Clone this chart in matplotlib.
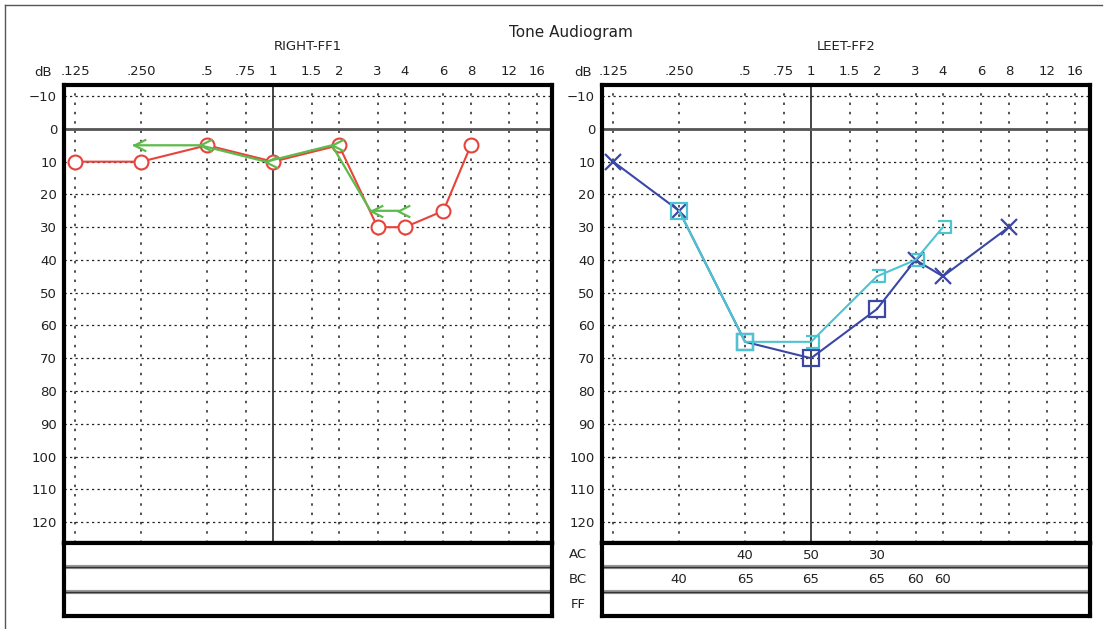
import matplotlib
matplotlib.use("Agg")
import matplotlib.pyplot as plt
from matplotlib.path import Path
from matplotlib.lines import Line2D
import matplotlib.transforms as mtransforms
from matplotlib.ticker import NullLocator

# ---------------- data ----------------
freq_ticks = [0.125, 0.25, 0.5, 0.75, 1, 1.5, 2, 3, 4, 6, 8, 12, 16]
freq_labels = [".125", ".250", ".5", ".75", "1", "1.5", "2", "3", "4", "6", "8", "12", "16"]
db_ticks = [-10, 0, 10, 20, 30, 40, 50, 60, 70, 80, 90, 100, 110, 120]

right_ac_freqs = [0.125, 0.25, 0.5, 1, 2, 3, 4, 6, 8]
right_ac = [10, 10, 5, 10, 5, 30, 30, 25, 5]
right_bc_freqs = [0.25, 0.5, 1, 2, 3, 4]
right_bc = [5, 5, 10, 5, 25, 25]

left_ac_freqs = [0.125, 0.25, 0.5, 1, 2, 3, 4, 8]
left_ac = [10, 25, 65, 70, 55, 40, 45, 30]
left_ac_masked = [False, False, True, True, True, False, False, False]
left_bc_freqs = [0.25, 0.5, 1, 2, 3, 4]
left_bc = [25, 65, 65, 45, 40, 30]
left_bc_square = [True, True, False, False, False, False]

table_rows = ["AC", "BC", "FF"]
left_table_ac_freqs = [0.5, 1, 2]
left_table_ac = [40, 50, 30]
left_table_bc_freqs = [0.25, 0.5, 1, 2, 3, 4]
left_table_bc = [40, 65, 65, 65, 60, 60]

# ---------------- style ----------------
RED = "#e8433b"
GREEN = "#5dbb4b"
DBLUE = "#3b47a6"
CYAN = "#4cc4d2"
FS = 9.5
plt.rcParams["font.family"] = ["DejaVu Sans"]

W, H = 1107, 629
fig = plt.figure(figsize=(W / 100, H / 100), dpi=100)


def rect(x0, y0, x1, y1):
    return [x0 / W, 1 - y1 / H, (x1 - x0) / W, (y1 - y0) / H]


XLIM = (0.1111, 18.78)
YLIM = (126.4, -13.4)

axL = fig.add_axes(rect(64, 85, 552, 543))
axR = fig.add_axes(rect(602, 85, 1090, 543))
tL = fig.add_axes(rect(64, 543, 552, 616))
tR = fig.add_axes(rect(602, 543, 1090, 616))


def setup_main(ax):
    ax.set_xscale("log", base=2)
    ax.set_xlim(*XLIM)
    ax.set_ylim(*YLIM)
    ax.xaxis.tick_top()
    ax.set_xticks(freq_ticks)
    ax.set_xticklabels(freq_labels, fontsize=FS, color="#222222")
    ax.xaxis.set_minor_locator(NullLocator())
    ax.set_yticks(db_ticks)
    ax.set_yticklabels([str(v).replace("-", "\u2212") for v in db_ticks],
                       fontsize=FS, color="#222222")
    ax.tick_params(axis="x", length=0, pad=5)
    ax.tick_params(axis="y", length=0, pad=5)
    for f in freq_ticks:
        if f == 1:
            ax.axvline(f, color="#444444", lw=1.4, zorder=1)
        else:
            ax.axvline(f, color="#222222", lw=1.1, ls=(0, (1.6, 4.5)), zorder=1)
    for d in db_ticks:
        if d == 0:
            ax.axhline(d, color="#555555", lw=2.0, zorder=1)
        else:
            ax.axhline(d, color="#222222", lw=0.9, ls=(0, (1.8, 2.6)), zorder=1)
    for s in ax.spines.values():
        s.set_linewidth(3)


def setup_table(ax):
    ax.set_xscale("log", base=2)
    ax.set_xlim(*XLIM)
    ax.set_ylim(3, 0)
    ax.set_xticks([])
    ax.set_yticks([])
    ax.xaxis.set_minor_locator(NullLocator())
    for yy in (1, 2):
        ax.axhline(yy, color="#999999", lw=3)
        ax.axhline(yy, color="#333333", lw=1)
    for s in ax.spines.values():
        s.set_linewidth(3)


setup_main(axL)
setup_main(axR)
setup_table(tL)
setup_table(tR)

# custom markers
lt_marker = Path([(12, 6), (0, 0), (12, -6)], [Path.MOVETO, Path.LINETO, Path.LINETO])
br_marker = Path([(-5, 6), (8, 6), (8, -6), (-5, -6)],
                 [Path.MOVETO, Path.LINETO, Path.LINETO, Path.LINETO])

# ---------------- right ear ----------------
axL.plot(right_ac_freqs, right_ac, color=RED, lw=1.5, marker="o", ms=10,
         mfc="white", mec=RED, mew=1.5, zorder=3)
off = mtransforms.offset_copy(axL.transData, fig=fig, x=-7, y=0, units="dots")
axL.plot(right_bc_freqs, right_bc, color=GREEN, lw=1.6, marker=lt_marker, ms=17,
         mfc="none", mec=GREEN, mew=1.6, transform=off, zorder=4)

# ---------------- left ear ----------------
axR.plot(left_ac_freqs, left_ac, color=DBLUE, lw=1.5, zorder=3)
for f, v, m in zip(left_ac_freqs, left_ac, left_ac_masked):
    axR.plot([f], [v], marker="s" if m else "x", ms=11,
             mfc="none", mec=DBLUE, mew=1.6, color=DBLUE, zorder=3)
axR.plot(left_bc_freqs, left_bc, color=CYAN, lw=1.5, zorder=4)
for f, v, sq in zip(left_bc_freqs, left_bc, left_bc_square):
    if sq:
        axR.plot([f], [v], marker="s", ms=11, mfc="none", mec=CYAN, mew=1.6, zorder=4)
    else:
        axR.plot([f], [v], marker=br_marker, ms=11.5, mfc="none", mec=CYAN, mew=1.6, zorder=4)

# ---------------- table values ----------------
for f, v in zip(left_table_ac_freqs, left_table_ac):
    tR.text(f, 0.5, str(v), ha="center", va="center", fontsize=FS, color="#222222")
for f, v in zip(left_table_bc_freqs, left_table_bc):
    tR.text(f, 1.5, str(v), ha="center", va="center", fontsize=FS, color="#222222")

for i, lab in enumerate(table_rows):
    fig.text(578 / W, 1 - (555 + i * 24.5) / H, lab, ha="center", va="center",
             fontsize=FS, color="#222222")

# ---------------- titles ----------------
fig.text(571 / W, 1 - 32 / H, "Tone Audiogram", ha="center", va="center",
         fontsize=11, color="#222222")
fig.text(308 / W, 1 - 47 / H, "RIGHT-FF1", ha="center", va="center", fontsize=FS, color="#222222")
fig.text(846 / W, 1 - 47 / H, "LEET-FF2", ha="center", va="center", fontsize=FS, color="#222222")
fig.text(43 / W, 1 - 72 / H, "dB", ha="center", va="center", fontsize=FS, color="#222222")
fig.text(583 / W, 1 - 72 / H, "dB", ha="center", va="center", fontsize=FS, color="#222222")

# outer frame lines
fig.add_artist(Line2D([5 / W, 5 / W], [0, 1 - 5 / H], color="#555555", lw=1))
fig.add_artist(Line2D([5 / W, 1102 / W], [1 - 5 / H, 1 - 5 / H], color="#555555", lw=1))

fig.savefig("out.png", dpi=100)
